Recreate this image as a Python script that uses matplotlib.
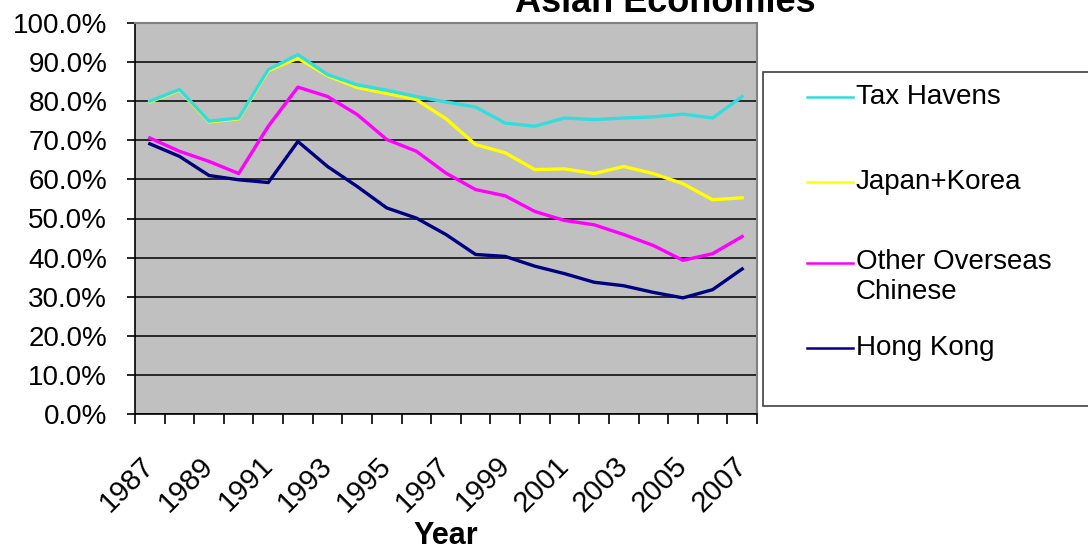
import matplotlib
matplotlib.use('Agg')
import matplotlib.pyplot as plt
from matplotlib.lines import Line2D
from matplotlib.patches import Rectangle
from matplotlib.ticker import FixedLocator, PercentFormatter

plt.rcParams['font.family'] = ['Liberation Sans', 'DejaVu Sans']

# data (share, %)
years = list(range(1987, 2008))
tax_havens = [80.0, 83.0, 74.9, 75.7, 88.1, 91.9, 86.8, 84.2, 82.8, 81.2, 79.8,
              78.5, 74.4, 73.6, 75.7, 75.3, 75.7, 76.0, 76.7, 75.7, 81.2]
japan_korea = [79.8, 82.8, 74.7, 75.5, 87.8, 91.0, 86.5, 83.5, 82.0, 80.4, 75.5,
               68.9, 66.8, 62.5, 62.7, 61.5, 63.3, 61.5, 58.9, 54.8, 55.3]
other_chinese = [70.6, 67.2, 64.6, 61.5, 73.6, 83.6, 81.2, 76.6, 70.2, 67.2, 61.6,
                 57.4, 55.8, 51.8, 49.5, 48.4, 45.9, 43.1, 39.3, 41.0, 45.4]
hong_kong = [69.1, 65.9, 61.0, 59.9, 59.2, 69.7, 63.3, 58.2, 52.7, 50.1, 45.9,
             40.8, 40.3, 37.8, 35.9, 33.7, 32.8, 31.1, 29.7, 31.8, 37.1]

names = ['Tax Havens', 'Japan+Korea', 'Other Overseas\nChinese', 'Hong Kong']
series = [tax_havens, japan_korea, other_chinese, hong_kong]
colors = ['#33DDDD', '#FFFF00', '#FF00FF', '#000080']
zorders = [4, 3, 5, 6]

W, H = 1088, 558
fig = plt.figure(figsize=(W/100, H/100), dpi=100)
ax = fig.add_axes([135/W, 1 - 414/H, (757-135)/W, (414-23)/H])
ax.set_facecolor('#C0C0C0')

x = list(range(len(years)))
for vals, c, z in zip(series, colors, zorders):
    ax.plot(x, vals, color=c, lw=2.4, zorder=z)

ax.set_xlim(-0.5, len(years) - 0.5)
ax.set_ylim(0, 100)
ax.set_yticks(range(0, 101, 10))
ax.yaxis.set_major_formatter(PercentFormatter(decimals=1))
ax.grid(axis='y', color='black', lw=1.1, zorder=1)
ax.set_axisbelow(True)

ax.set_xticks(x[::2])
ax.set_xticklabels([str(y) for y in years[::2]], rotation=45, ha='right',
                   rotation_mode='anchor', va='center')
ax.xaxis.set_minor_locator(FixedLocator([i - 0.5 for i in range(len(years) + 1)]))
ax.tick_params(axis='x', which='major', length=0, pad=34, labelsize=21)
ax.tick_params(axis='x', which='minor', length=7, width=1.2, direction='out')
ax.tick_params(axis='y', length=6, width=1.2, pad=14, labelsize=20)
ax.set_xlabel('Year', fontsize=22, fontweight='bold', labelpad=3)

for s in ['top', 'right']:
    ax.spines[s].set_color('#808080')
    ax.spines[s].set_linewidth(1.5)
for s in ['left', 'bottom']:
    ax.spines[s].set_color('black')
    ax.spines[s].set_linewidth(1.2)

# title sits partly above the top edge, as in the original
fig.text(665/W, 1 - 12/H, 'Asian Economies', fontsize=26, fontweight='bold',
         ha='center', va='baseline')

# legend box, drawn by hand to keep the original spacing
fig.add_artist(Rectangle((763/W, 1 - 406/H), 0.4, (406-72)/H,
                         transform=fig.transFigure, facecolor='white',
                         edgecolor='#404040', lw=1.2))
leg_y = [97, 182, 263, 348]
for name, c, yy in zip(names, colors, leg_y):
    fy = 1 - yy/H
    fig.add_artist(Line2D([807/W, 853/W], [fy, fy], color=c, lw=1.8,
                          transform=fig.transFigure))
    if '\n' in name:
        fig.text(856/W, fy + 14/H, name, fontsize=20, ha='left', va='top',
                 linespacing=1.2)
    else:
        fig.text(856/W, fy, name, fontsize=20, ha='left', va='center')

fig.savefig('out.png', dpi=100)
